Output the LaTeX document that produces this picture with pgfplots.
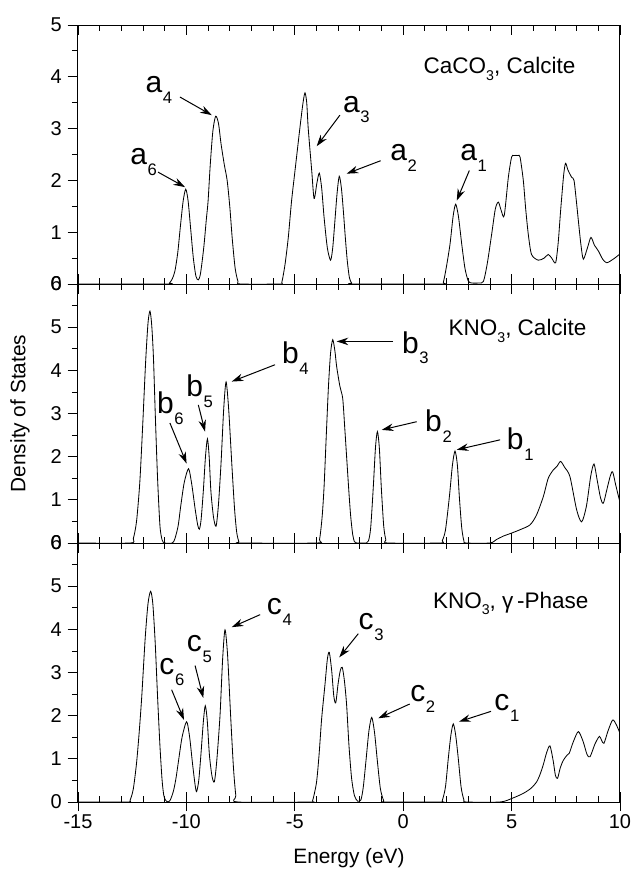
\documentclass[border=0pt]{standalone}
\usepackage{fontspec}
\setmainfont{Liberation Sans}
\usepackage{pgfplots}
\pgfplotsset{compat=1.18}
\usetikzlibrary{arrows.meta}

\newcommand{\lbl}[2]{{\fontsize{18}{20}\selectfont #1}\kern0.4pt\raisebox{-6.5pt}{\fontsize{10}{11}\selectfont #2}}
\newcommand{\sub}[1]{\raisebox{-3.8pt}{\fontsize{8.5}{9}\selectfont #1}}

\tikzset{
 arr/.style={-{Stealth[length=7pt,width=4.5pt]}, line width=0.6pt},
 lab/.style={anchor=base west, inner sep=0pt},
}
\pgfplotsset{
 panel/.style={
  scale only axis, width=325.2pt, height=155.4pt,
  anchor=south west,
  xmin=-15, xmax=10, ymin=0,
  xtick={-15,-10,...,10}, minor x tick num=4,
  xtick align=inside, xtick pos=both,
  ytick pos=left, ytick align=outside,
  minor y tick num=1,
  major tick length=6.2pt, minor tick length=3.6pt,
  tick style={black, line width=0.5pt},
  axis line style={line width=0.6pt},
  every tick label/.append style={font=\fontsize{12}{14}\selectfont},
  /pgf/number format/assume math mode=true,
  clip=true,
 },
 curve/.style={black, line width=0.5pt, smooth, tension=0.45, mark=none},
}

\begin{document}
\begin{tikzpicture}
\path[use as bounding box] (-46.8pt,-42pt) rectangle (332.4pt,481.2pt);

% outward major ticks on the lowest axis
\begin{axis}[scale only axis, width=325.2pt, height=155.4pt, anchor=south west, at={(0pt,0pt)},
  xmin=-15, xmax=10, ymin=0, ymax=6, xtick={-15,-10,...,10}, xticklabels={},
  minor x tick num=0, xtick pos=left, xtick align=outside, major tick length=5.5pt,
  ytick=\empty, axis line style={draw=none}, tick style={black, line width=0.5pt}]
\end{axis}

% ---------------- bottom panel ----------------
\begin{axis}[panel, at={(0pt,0pt)}, ymax=6, ytick={0,1,...,6},
  xticklabel style={yshift=-4pt},
  xlabel={Energy (eV)},
  xlabel style={font=\fontsize{12.5}{14}\selectfont, yshift=-5pt}]
\addplot[curve] coordinates {
(-15,0) (-12.75,0) (-12.6,0.04) (-12.45,0.3) (-12.3,0.9) (-12.18,1.6) (-12.06,2.44) (-11.9,3.8) (-11.77,4.6) (-11.65,4.88) (-11.55,4.6) (-11.44,3.7) (-11.33,2.44) (-11.22,1.3) (-11.12,0.5) (-11.03,0.12) (-10.9,0.01)
(-10.76,0.03) (-10.6,0.25) (-10.48,0.55) (-10.37,0.93) (-10.2,1.5) (-9.99,1.86) (-9.85,1.5) (-9.72,0.9) (-9.6,0.4) (-9.53,0.24) (-9.43,0.5) (-9.33,1.1) (-9.22,1.85) (-9.13,2.23) (-9.04,1.9) (-8.94,1.1) (-8.82,0.6) (-8.71,0.47) (-8.6,0.95) (-8.45,2.0) (-8.33,3.3) (-8.22,3.99) (-8.1,3.4) (-7.96,2.0) (-7.83,0.8) (-7.72,0.15) (-7.62,0)
(-4.3,0) (-4.18,0.03) (-4.0,0.45) (-3.88,1.1) (-3.76,1.94) (-3.61,2.71) (-3.5,3.3) (-3.41,3.47) (-3.3,3.05) (-3.2,2.45) (-3.11,2.3) (-3.0,2.75) (-2.9,3.05) (-2.81,3.12) (-2.71,2.8) (-2.61,2.25) (-2.5,1.3) (-2.38,0.55) (-2.25,0.15) (-2.1,0.02)
(-1.95,0.05) (-1.84,0.35) (-1.72,0.94) (-1.58,1.65) (-1.45,1.96) (-1.32,1.6) (-1.19,0.94) (-1.05,0.3) (-0.9,0.03) (-0.8,0)
(1.7,0) (1.8,0.03) (1.95,0.35) (2.08,1.01) (2.2,1.55) (2.31,1.81) (2.42,1.55) (2.54,1.01) (2.67,0.35) (2.8,0.05) (2.93,0)
(4.46,0) (5.0,0.08) (5.54,0.2) (5.9,0.32) (6.16,0.47) (6.32,0.65) (6.46,0.86) (6.62,1.15) (6.77,1.3) (6.92,0.95) (7.02,0.62) (7.12,0.55) (7.25,0.8) (7.39,0.97) (7.55,1.08) (7.66,1.13) (7.85,1.4) (8.08,1.63) (8.3,1.4) (8.48,1.1) (8.62,1.05) (8.85,1.35) (9.05,1.52) (9.15,1.43) (9.26,1.36) (9.45,1.65) (9.66,1.9) (9.82,1.8) (9.97,1.63) (10,1.6)
};
\node[lab] at (axis cs:1.36,4.48) {\fontsize{13.5}{16}\selectfont KNO\sub{3}, γ\,-Phase};
\node[lab] at (axis cs:-11.26,2.95) {\lbl{c}{6}};
\node[lab] at (axis cs:-9.99,3.49) {\lbl{c}{5}};
\node[lab] at (axis cs:-6.3,4.34) {\lbl{c}{4}};
\draw[arr] (axis cs:-10.68,2.6) -- (axis cs:-10.11,1.9);
\draw[arr] (axis cs:-9.6,3.16) -- (axis cs:-9.22,2.41);
\draw[arr] (axis cs:-6.6,4.34) -- (axis cs:-7.91,4.05);
\node[lab] at (axis cs:-2.07,3.99) {\lbl{c}{3}};
\draw[arr] (axis cs:-2.07,3.9) -- (axis cs:-2.95,3.35);
\node[lab] at (axis cs:0.31,2.33) {\lbl{c}{2}};
\draw[arr] (axis cs:0.3,2.27) -- (axis cs:-1.15,1.94);
\node[lab] at (axis cs:4.19,2.12) {\lbl{c}{1}};
\draw[arr] (axis cs:4.05,2.10) -- (axis cs:2.57,1.86);
\end{axis}

% ---------------- middle panel ----------------
\begin{axis}[panel, at={(0pt,155.4pt)}, ymax=6, ytick={0,1,...,6},
  xticklabels={},
  ylabel={Density of States},
  ylabel style={font=\fontsize{12.5}{14}\selectfont, at={(axis description cs:-0.107,0.5)}, anchor=center}]
\addplot[curve] coordinates {
(-15,0) (-12.6,0) (-12.45,0.1) (-12.3,0.5) (-12.15,1.4) (-12.02,2.68) (-11.88,4.2) (-11.77,5.1) (-11.68,5.37) (-11.6,5.05) (-11.52,4.3) (-11.43,2.9) (-11.33,1.5) (-11.22,0.4) (-11.12,0.07) (-11.0,0)
(-10.65,0) (-10.53,0.1) (-10.38,0.4) (-10.26,0.86) (-10.1,1.4) (-9.9,1.72) (-9.75,1.35) (-9.6,0.8) (-9.48,0.42) (-9.4,0.32) (-9.32,0.55) (-9.22,1.2) (-9.12,2.0) (-9.03,2.41) (-8.95,2.0) (-8.87,1.2) (-8.75,0.6) (-8.63,0.39) (-8.52,0.9) (-8.4,1.87) (-8.28,3.1) (-8.17,3.73) (-8.05,3.1) (-7.91,1.87) (-7.78,0.8) (-7.68,0.25) (-7.58,0.03) (-7.5,0)
(-4.0,0) (-3.86,0.08) (-3.74,0.6) (-3.65,1.3) (-3.56,2.35) (-3.45,3.6) (-3.35,4.4) (-3.25,4.71) (-3.15,4.45) (-3.07,4.09) (-2.92,3.63) (-2.79,3.35) (-2.7,2.7) (-2.61,2.0) (-2.5,1.15) (-2.42,0.61) (-2.33,0.2) (-2.25,0.03) (-2.15,0)
(-1.7,0) (-1.6,0.05) (-1.5,0.35) (-1.38,1.29) (-1.28,2.2) (-1.19,2.58) (-1.1,2.2) (-1.01,1.29) (-0.9,0.4) (-0.8,0.07) (-0.7,0)
(1.7,0) (1.8,0.05) (1.95,0.3) (2.13,1.07) (2.27,1.8) (2.39,2.13) (2.5,1.8) (2.59,1.07) (2.7,0.35) (2.8,0.05) (2.9,0)
(4.0,0) (4.3,0.08) (4.62,0.16) (5.0,0.23) (5.4,0.31) (5.85,0.42) (6.15,0.65) (6.46,1.07) (6.69,1.5) (6.92,1.69) (7.1,1.78) (7.26,1.89) (7.45,1.75) (7.69,1.54) (8.0,0.77) (8.23,0.49) (8.45,0.85) (8.65,1.55) (8.8,1.83) (8.95,1.45) (9.1,1.05) (9.23,0.92) (9.4,1.25) (9.55,1.55) (9.66,1.65) (9.8,1.35) (9.97,1.0) (10,0.98)
};
\node[lab] at (axis cs:2.08,4.80) {\fontsize{13.5}{16}\selectfont KNO\sub{3}, Calcite};
\node[lab] at (axis cs:-11.37,2.99) {\lbl{b}{6}};
\node[lab] at (axis cs:-10.02,3.39) {\lbl{b}{5}};
\node[lab] at (axis cs:-5.6,4.15) {\lbl{b}{4}};
\node[lab] at (axis cs:-0.07,4.40) {\lbl{b}{3}};
\node[lab] at (axis cs:1.0,2.58) {\lbl{b}{2}};
\node[lab] at (axis cs:4.77,2.17) {\lbl{b}{1}};
\draw[arr] (axis cs:-10.76,2.78) -- (axis cs:-9.99,1.84);
\draw[arr] (axis cs:-9.45,3.2) -- (axis cs:-9.14,2.58);
\draw[arr] (axis cs:-5.91,4.13) -- (axis cs:-7.91,3.74);
\draw[arr] (axis cs:-0.46,4.67) -- (axis cs:-3.07,4.67);
\draw[arr] (axis cs:0.62,2.81) -- (axis cs:-0.99,2.62);
\draw[arr] (axis cs:4.47,2.39) -- (axis cs:2.47,2.16);
\end{axis}

% ---------------- top panel ----------------
\begin{axis}[panel, at={(0pt,310.8pt)}, ymax=5, ytick={0,1,...,5},
  xticklabels={}]
\addplot[curve] coordinates {
(-15,0) (-10.9,0) (-10.78,0.02) (-10.65,0.1) (-10.53,0.25) (-10.4,0.6) (-10.28,1.1) (-10.15,1.6) (-10.03,1.83) (-9.92,1.6) (-9.8,1.05) (-9.68,0.5) (-9.56,0.15) (-9.45,0.08) (-9.35,0.2) (-9.2,0.7) (-9.08,1.25) (-9.0,1.6) (-8.9,2.3) (-8.78,2.95) (-8.65,3.24) (-8.52,3.1) (-8.4,2.7) (-8.25,2.3) (-8.12,2.0) (-8.0,1.5) (-7.88,0.85) (-7.75,0.3) (-7.62,0.05) (-7.5,0)
(-5.7,0) (-5.6,0.03) (-5.45,0.38) (-5.3,0.9) (-5.15,1.6) (-4.99,2.19) (-4.76,3.03) (-4.62,3.5) (-4.53,3.69) (-4.45,3.5) (-4.38,3.0) (-4.22,2.19) (-4.11,1.65) (-3.98,1.95) (-3.87,2.14) (-3.76,1.85) (-3.65,1.29) (-3.5,0.7) (-3.35,0.46) (-3.25,0.7) (-3.15,1.22) (-3.05,1.75) (-2.95,2.08) (-2.85,1.85) (-2.76,1.41) (-2.67,0.9) (-2.58,0.45) (-2.48,0.12) (-2.38,0.02) (-2.3,0)
(1.75,0) (1.85,0.03) (1.98,0.3) (2.16,0.77) (2.3,1.3) (2.42,1.54) (2.55,1.3) (2.7,0.77) (2.85,0.3) (3.0,0.06) (3.15,0.02) (3.5,0.02) (3.7,0.05) (3.88,0.4) (4.08,0.96) (4.25,1.45) (4.39,1.58) (4.52,1.42) (4.66,1.32) (4.85,2.06) (5.0,2.45) (5.1,2.48) (5.3,2.48) (5.39,2.45) (5.54,2.0) (5.65,1.45) (5.77,0.96) (5.92,0.57) (6.23,0.46) (6.5,0.5) (6.69,0.57) (6.85,0.5) (7.03,0.41) (7.15,0.8) (7.26,1.41) (7.4,2.1) (7.49,2.33) (7.6,2.2) (7.77,2.06) (7.88,2.0) (8.0,1.55) (8.08,1.22) (8.2,0.75) (8.31,0.48) (8.5,0.7) (8.66,0.9) (8.82,0.75) (9.0,0.64) (9.2,0.48) (9.39,0.41) (9.69,0.48) (9.97,0.57) (10,0.58)
};
\node[lab] at (axis cs:0.93,4.06) {\fontsize{13.5}{16}\selectfont CaCO\sub{3}, Calcite};
\node[lab] at (axis cs:2.62,2.38) {\lbl{a}{1}};
\node[lab] at (axis cs:-2.79,3.32) {\lbl{a}{3}};
\node[lab] at (axis cs:-0.61,2.38) {\lbl{a}{2}};
\node[lab] at (axis cs:-11.9,3.70) {\lbl{a}{4}};
\node[lab] at (axis cs:-12.6,2.3) {\lbl{a}{6}};
\draw[arr] (axis cs:3.05,2.19) -- (axis cs:2.47,1.61);
\draw[arr] (axis cs:-2.92,3.26) -- (axis cs:-3.99,2.66);
\draw[arr] (axis cs:-1.04,2.38) -- (axis cs:-2.61,2.13);
\draw[arr] (axis cs:-10.3,3.61) -- (axis cs:-8.83,3.26);
\draw[arr] (axis cs:-11.31,2.16) -- (axis cs:-10.06,1.87);
\end{axis}
\end{tikzpicture}
\end{document}
